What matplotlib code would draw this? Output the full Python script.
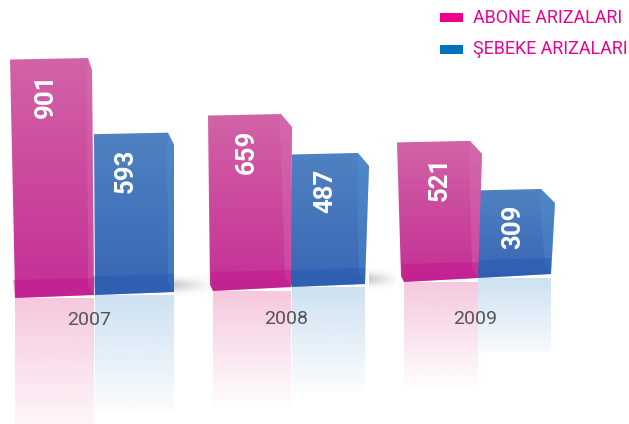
import numpy as np
import matplotlib
matplotlib.use("Agg")
import matplotlib.pyplot as plt
from matplotlib.colors import to_rgb
from matplotlib.patches import Polygon, Rectangle

years = ["2007", "2008", "2009"]
abone = [901, 659, 521]
sebeke = [593, 487, 309]
legend_labels = ["ABONE ARIZALARI", "ŞEBEKE ARIZALARI"]

W, H = 629, 424
SCALE = 0.267   # pixels per unit
Y0 = 300        # pixel row of value 0


def v(px):
    # pixel row -> value axis
    return (Y0 - px) / SCALE


fig = plt.figure(figsize=(W / 100, H / 100), dpi=100)
ax = fig.add_axes([0, 0, 1, 1])
ax.set_xlim(0, W)
ax.set_ylim(v(H), v(0))
ax.axis("off")


def gradient(poly_px, top_col, bot_col, y1, y2, z, alpha=1.0):
    # vertical gradient clipped to a polygon, rows given in pixels
    t = np.linspace(0, 1, 64)[:, None, None]
    a = np.array(to_rgb(top_col))[None, None, :]
    b = np.array(to_rgb(bot_col))[None, None, :]
    img = a * (1 - t) + b * t
    xs = [p[0] for p in poly_px]
    im = ax.imshow(img, extent=[min(xs), max(xs), v(y2), v(y1)], aspect="auto",
                   zorder=z, alpha=alpha, interpolation="bilinear")
    clip = Polygon([(x, v(y)) for x, y in poly_px], closed=True,
                   transform=ax.transData, fc="none", ec="none")
    ax.add_patch(clip)
    im.set_clip_path(clip)


def fade(x1, x2, y1, y2, col, a1, a2, z):
    # reflection under a bar, alpha fades out going down
    t = np.linspace(0, 1, 64)
    img = np.ones((64, 1, 4))
    img[:, :, :3] = to_rgb(col)
    img[:, 0, 3] = a1 * (1 - t) + a2 * t
    ax.imshow(img, extent=[x1, x2, v(y2), v(y1)], aspect="auto", zorder=z,
              interpolation="bilinear")


def smudge(x1, x2, y1, y2):
    # grey floor shadow between the groups
    ny = np.exp(-np.linspace(-1.7, 1.7, 32) ** 2)[:, None]
    nx = np.linspace(1, 0.1, 32)[None, :]
    img = np.ones((32, 32, 4))
    img[:, :, :3] = 0.62
    img[:, :, 3] = ny * nx * 0.5
    ax.imshow(img, extent=[x1, x2, v(y2), v(y1)], aspect="auto", zorder=1,
              interpolation="bilinear")


# layout per bar, pixels: left at top, right of front, right of side,
# base for the value, left/right bottom rows, left at bottom
pink_geo = [
    dict(xl=10, xf=88, xr=92, base=298.6, yb1=298, yb2=295, xb=15, xbr=94, d=12, band=280),
    dict(xl=208, xf=281, xr=292, base=290, yb1=291, yb2=287, xb=213, xbr=291, d=13, band=272),
    dict(xl=397, xf=470, xr=482, base=280, yb1=282, yb2=278, xb=404, xbr=478, d=13, band=264),
]
blue_geo = [
    dict(xl=94, xf=168, xr=174, base=291, yb1=295, yb2=292, xb=95, xbr=174, d=12, band=276),
    dict(xl=292, xf=358, xr=369, base=283, yb1=287, yb2=284, xb=292, xbr=365, d=13, band=270),
    dict(xl=472, xf=541, xr=555, base=271.5, yb1=278, yb2=274, xb=478, xbr=551, d=14, band=260),
]
pink_refl = [(15, 94, 298, 424, 0.1), (213, 291, 291, 410, 0.0), (404, 478, 282, 392, 0.0)]
blue_refl = [(95, 174, 295, 410, 0.05), (292, 365, 287, 392, 0.03), (478, 551, 278, 352, 0.08)]

for x1, x2, y1, y2 in [(174, 210, 274, 296), (369, 396, 268, 290)]:
    smudge(x1, x2, y1, y2)


def draw_bar(val, g, top_col, bot_col, band_col, side_col, z):
    top = g["base"] - val * SCALE
    sil = [(g["xl"], top + 1.5), (g["xf"], top), (g["xr"], top + g["d"]),
           (g["xbr"], g["yb2"]), (g["xb"], g["yb1"]),
           (g["xb"] - 3 if g["xl"] > 200 else g["xb"], g["yb1"] - 6)]
    gradient(sil, top_col, bot_col, top, g["yb1"], z)
    # lighter side face
    side = [(g["xf"] - 1, top + g["d"]), (g["xf"], top), (g["xr"], top + g["d"]),
            (g["xbr"], g["yb2"]), (g["xbr"] - 6, g["yb2"] - 10)]
    ax.fill([p[0] for p in side], [v(p[1]) for p in side],
            color=side_col, alpha=0.3, lw=0, zorder=z + 0.1)
    # floor of the box
    ax.fill([g["xb"], g["xb"] - 2, g["xbr"], g["xbr"]],
            [v(g["yb1"]), v(g["band"]), v(g["band"] - 2), v(g["yb2"])],
            color=band_col, alpha=0.4, lw=0, zorder=z + 0.2)
    return top


tops = []
for i in range(3):
    px1, px2, py1, py2, pa = pink_refl[i]
    fade(px1, px2, py1, py2, "#ee9cc4", 0.55, pa, 1)
    bx1, bx2, by1, by2, ba = blue_refl[i]
    fade(bx1, bx2, by1, by2, "#9cc4e4", 0.5, ba, 1)

for i in range(3):
    # blue goes first, the pink box sits over it
    t_b = draw_bar(sebeke[i], blue_geo[i], "#4f82c2", "#3a66b4", "#1f55ae", "#4f9ad6", 3)
    t_p = draw_bar(abone[i], pink_geo[i], "#d263a6", "#c42f96", "#c2108c", "#dc7ab6", 4)
    tops.append((t_p, t_b))

label_x = [(46, 126), (247, 325), (440, 513)]
for i in range(3):
    for val, x, t in zip((abone[i], sebeke[i]), label_x[i], tops[i]):
        ax.text(x, v(t + 38), str(val), rotation=90, color="white", ha="center",
                va="center", fontsize=18.5, fontweight="bold", family="Roboto", zorder=6)

year_x = [89, 286, 475]
for x, y, lab in zip(year_x, [320, 319, 319], years):
    ax.text(x, v(y), lab, ha="center", va="center", color="#555558", fontsize=14,
            family="Roboto", zorder=6)

# legend
swatches = ["#ec008c", "#0072bc"]
for lab, col, row in zip(legend_labels, swatches, [17.5, 49]):
    ax.add_patch(Rectangle((440, v(row + 4.5)), 23, 9 / SCALE, fc=col, ec="none", zorder=6))
    ax.text(473, v(row), lab, ha="left", va="center", color="#ec008c", fontsize=12.9,
            family="Roboto", zorder=6)

fig.savefig("out.png", dpi=100)
